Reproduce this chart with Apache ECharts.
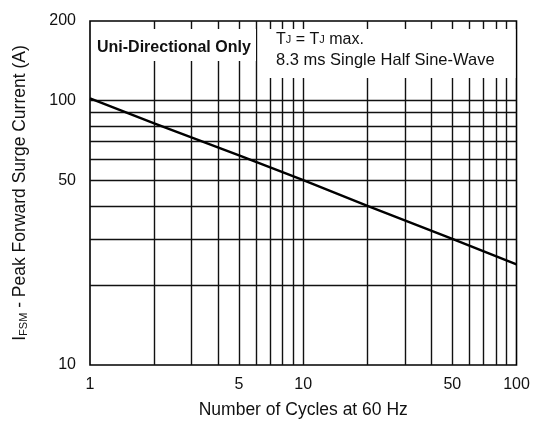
<!DOCTYPE html>
<html>
<head>
<meta charset="utf-8">
<script src="https://cdn.jsdelivr.net/npm/echarts@6/dist/echarts.min.js"></script>
<style>html,body{margin:0;padding:0;background:#fff}#c{width:535px;height:424px}</style>
</head>
<body>
<div id="c"></div>
<script>
const xTickLabels = [1, 5, 10, 50, 100];
const yTickLabels = [10, 50, 100, 200];
const xGridValues = [2, 3, 4, 5, 6, 7, 8, 9, 10, 20, 30, 40, 50, 60, 70, 80, 90];
const yGridValues = [20, 30, 40, 50, 60, 70, 80, 90, 100];
const cycles = [1, 2, 5, 10, 20, 50, 100];
const surgeCurrent = [102, 82, 62, 50, 40, 30, 24];

const FONT = 'Liberation Sans';
const chart = echarts.init(document.getElementById('c'));
const gridLines = xGridValues.map(v => ({ xAxis: v })).concat(yGridValues.map(v => ({ yAxis: v })));

chart.setOption({
  animation: false,
  backgroundColor: '#fff',
  grid: { left: 90, right: 18.5, top: 21, bottom: 56.5, show: true, borderColor: '#000', borderWidth: 1.6, backgroundColor: 'transparent' },
  xAxis: {
    type: 'log', logBase: 10, min: 1, max: 100,
    name: 'Number of Cycles at 60 Hz', nameLocation: 'middle', nameGap: 36,
    nameTextStyle: { fontFamily: FONT, fontSize: 17.5, color: '#111' },
    axisLine: { show: false }, axisTick: { show: false }, splitLine: { show: false }, minorSplitLine: { show: false },
    axisLabel: { customValues: xTickLabels, fontFamily: FONT, fontSize: 16, color: '#111', margin: 12 }
  },
  yAxis: {
    type: 'log', logBase: 10, min: 10, max: 200,
    name: '{m|I}{s|FSM}{m| - Peak Forward Surge Current (A)}', nameLocation: 'middle', nameGap: 61,
    nameTextStyle: { fontFamily: FONT, fontSize: 17.5, color: '#111',
      rich: { m: { fontFamily: FONT, fontSize: 17.5, color: '#111' }, s: { fontFamily: FONT, fontSize: 11, color: '#111', verticalAlign: 'bottom' } } },
    axisLine: { show: false }, axisTick: { show: false }, splitLine: { show: false }, minorSplitLine: { show: false },
    axisLabel: { customValues: yTickLabels, fontFamily: FONT, fontSize: 16, color: '#111', margin: 14 }
  },
  series: [
    {
      type: 'scatter', data: [], z: 1, silent: true,
      markLine: { silent: true, symbol: ['none', 'none'], label: { show: false },
        lineStyle: { color: '#111', width: 1.4, type: 'solid' }, emphasis: { disabled: true }, data: gridLines, animation: false }
    },
    {
      type: 'line', z: 5, showSymbol: false, symbol: 'none', silent: true,
      lineStyle: { color: '#000', width: 2.4 },
      data: cycles.map((c, i) => [c, surgeCurrent[i]])
    }
  ],
  graphic: [
    { type: 'rect', z: 100, shape: { x: 91.5, y: 29, width: 164.5, height: 32 }, style: { fill: '#fff' } },
    { type: 'rect', z: 100, shape: { x: 262, y: 29, width: 253.5, height: 49 }, style: { fill: '#fff' } },
    { type: 'text', z: 101, x: 97, y: 48, style: { text: 'Uni-Directional Only', font: 'bold 16px "Liberation Sans"', fill: '#111', verticalAlign: 'middle' } },
    { type: 'text', z: 101, x: 276, y: 40, style: { text: '{m|T}{s|J}{m| = T}{s|J}{m| max.}', verticalAlign: 'middle',
        rich: { m: { fontFamily: FONT, fontSize: 16, fill: '#111' }, s: { fontFamily: FONT, fontSize: 11, fill: '#111' } } } },
    { type: 'text', z: 101, x: 276, y: 60, style: { text: '8.3 ms Single Half Sine-Wave', font: '16.5px "Liberation Sans"', fill: '#111', verticalAlign: 'middle' } }
  ]
});
</script>
</body>
</html>
